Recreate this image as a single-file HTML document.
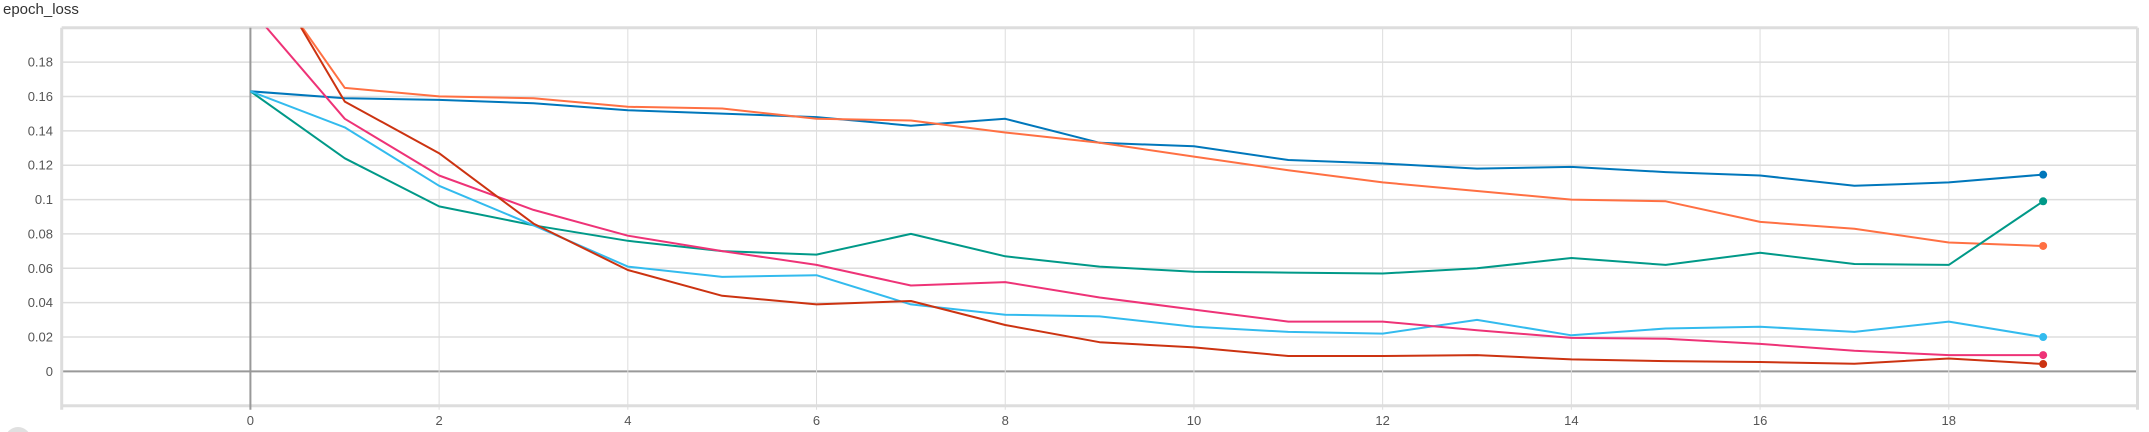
<!DOCTYPE html>
<html><head><meta charset="utf-8"><style>
html,body{margin:0;padding:0;background:#fff;width:2149px;height:432px;overflow:hidden;font-family:"Liberation Sans",sans-serif;}
</style></head><body>
<svg id="chart" width="2149" height="432" xmlns="http://www.w3.org/2000/svg">
<text x="3" y="14" font-size="15" fill="#333" font-family="Liberation Sans, sans-serif">epoch_loss</text>
<g id="grid"></g><g id="lines"></g><g id="labels"></g>
<circle cx="18" cy="440" r="13" fill="#e0e0e0"/>
</svg>
<script>
const xTicks=[0,2,4,6,8,10,12,14,16,18];
const yTicks=[0,0.02,0.04,0.06,0.08,0.1,0.12,0.14,0.16,0.18];
const yTickLabels=["0","0.02","0.04","0.06","0.08","0.1","0.12","0.14","0.16","0.18"];
const epochs=[0,1,2,3,4,5,6,7,8,9,10,11,12,13,14,15,16,17,18,19];
const seriesNames=["run-blue","run-orange","run-teal","run-cyan","run-pink","run-red"];
const seriesColors=["#0077bb","#ff7043","#009988","#33bbee","#ee3377","#cc3311"];
const blueVals=[0.163,0.159,0.158,0.156,0.152,0.150,0.148,0.143,0.147,0.133,0.131,0.123,0.121,0.118,0.119,0.116,0.114,0.108,0.110,0.1145];
const orangeVals=[0.243,0.165,0.160,0.159,0.154,0.153,0.147,0.146,0.139,0.133,0.125,0.117,0.110,0.105,0.100,0.099,0.087,0.083,0.075,0.073];
const tealVals=[0.163,0.124,0.096,0.085,0.076,0.070,0.068,0.080,0.067,0.061,0.058,0.0575,0.057,0.060,0.066,0.062,0.069,0.0625,0.062,0.099];
const cyanVals=[0.163,0.142,0.108,0.085,0.061,0.055,0.056,0.039,0.033,0.032,0.026,0.023,0.022,0.030,0.021,0.025,0.026,0.023,0.029,0.020];
const pinkVals=[0.211,0.147,0.114,0.094,0.079,0.070,0.062,0.050,0.052,0.043,0.036,0.029,0.029,0.024,0.0195,0.019,0.016,0.012,0.0095,0.0095];
const redVals=[0.25,0.157,0.127,0.086,0.059,0.044,0.039,0.041,0.027,0.017,0.014,0.009,0.009,0.0095,0.007,0.006,0.0055,0.0045,0.0075,0.0043];
const allSeries=[blueVals,orangeVals,tealVals,cyanVals,pinkVals,redVals];

const NS="http://www.w3.org/2000/svg";
const L=61.7,R=2137.5,T=27.7,B=405.8;
const xMin=-2,xMax=20,yMin=-0.02,yMax=0.2;
const xs=v=>L+(v-xMin)/(xMax-xMin)*(R-L);
const ys=v=>B-(v-yMin)/(yMax-yMin)*(B-T);
function mk(tag,attrs,parent){const e=document.createElementNS(NS,tag);for(const k in attrs)e.setAttribute(k,attrs[k]);parent.appendChild(e);return e;}
const svg=document.getElementById('chart');
const defs=mk('defs',{},svg);
const cp=mk('clipPath',{id:'plotclip'},defs);
mk('rect',{x:L,y:T,width:R-L,height:B-T},cp);
const grid=document.getElementById('grid'),lines=document.getElementById('lines'),labels=document.getElementById('labels');
for(let i=-1;i<=10;i++){const v=i*0.02;const y=ys(v);
 const ln=mk('line',{x1:L,x2:R,y1:y,y2:y,stroke:(i===0?'#999':'#ddd'),'stroke-width':(i===0?2:(i===-1||i===10?3:1.5))},grid);
 
 
}
for(let i=-1;i<=10;i++){const v=i*2;const x=xs(v);
 const ln=mk('line',{x1:x,x2:x,y1:T,y2:B+4,stroke:(v===0?'#999':'#ddd'),'stroke-width':(v===0?2:(v===-2||v===20?3:1))},grid);
 
 
}
yTicks.forEach((v,i)=>{const t=mk('text',{x:53,y:ys(v)+4.5,'text-anchor':'end','font-size':13,fill:'#555'},labels);t.textContent=yTickLabels[i];
 
 
});
xTicks.forEach(v=>{const t=mk('text',{x:xs(v),y:425,'text-anchor':'middle','font-size':13,fill:'#555'},labels);t.textContent=String(v);
 
 
});
const lg=mk('g',{'clip-path':'url(#plotclip)'},lines);
allSeries.forEach((vals,si)=>{
 const d=vals.map((v,i)=>(i?'L':'M')+xs(epochs[i]).toFixed(1)+','+ys(v).toFixed(1)).join(' ');
 const p=mk('path',{d:d,fill:'none',stroke:seriesColors[si],'stroke-width':2,'stroke-linejoin':'round'},lg);
 
 
 const n=vals.length-1;
 const c=mk('circle',{cx:xs(epochs[n]),cy:ys(vals[n]),r:4,fill:seriesColors[si]},lg);
 
 
});
</script>
</body></html>
